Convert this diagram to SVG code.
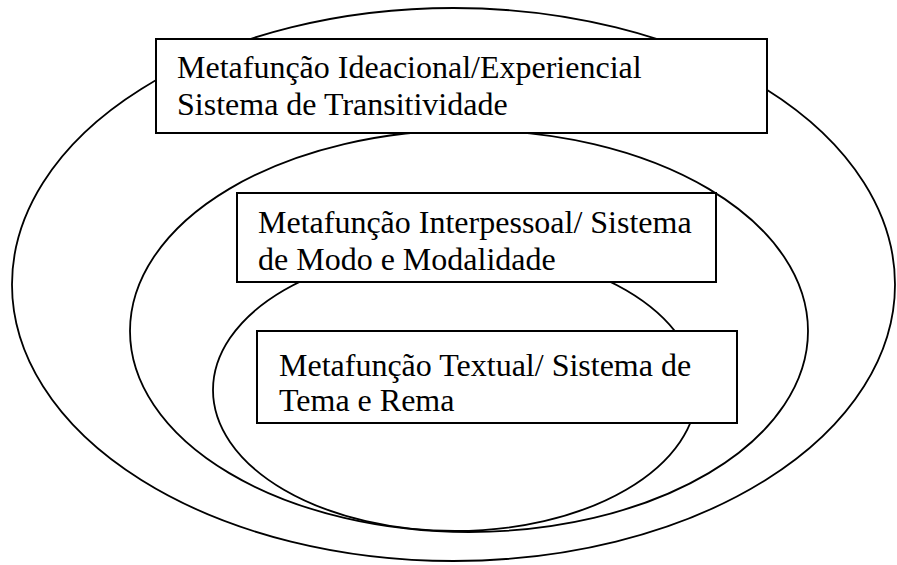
<svg xmlns="http://www.w3.org/2000/svg" width="897" height="565" viewBox="0 0 897 565">
  <style>
    .ring { fill: none; stroke: #000; stroke-width: 1.8; }
    .box { fill: #fff; stroke: #000; stroke-width: 2; }
    .label { font-family: "Liberation Serif", "Times New Roman", serif; font-size: 32px; fill: #000; }
  </style>
  <rect width="897" height="565" fill="#fff"/>
  <g id="ideacional">
    <ellipse class="ring" cx="453.5" cy="284.5" rx="441.5" ry="276.5"/>
  </g>
  <g id="interpessoal">
    <ellipse class="ring" cx="469" cy="331" rx="339" ry="201"/>
  </g>
  <g id="textual">
    <ellipse class="ring" cx="455" cy="390" rx="242" ry="141"/>
  </g>
  <g id="box-ideacional">
    <rect class="box" x="156" y="39" width="611" height="94"/>
    <text class="label" x="177" y="78">Metafunção Ideacional/Experiencial</text>
    <text class="label" x="177" y="115">Sistema de Transitividade</text>
  </g>
  <g id="box-interpessoal">
    <rect class="box" x="237" y="193" width="479" height="89"/>
    <text class="label" x="258" y="233">Metafunção Interpessoal/ Sistema</text>
    <text class="label" x="258" y="270">de Modo e Modalidade</text>
  </g>
  <g id="box-textual">
    <rect class="box" x="257" y="331" width="480" height="92"/>
    <text class="label" x="279" y="376">Metafunção Textual/ Sistema de</text>
    <text class="label" x="279" y="411">Tema e Rema</text>
  </g>
  <g id="connectors"/>
</svg>
